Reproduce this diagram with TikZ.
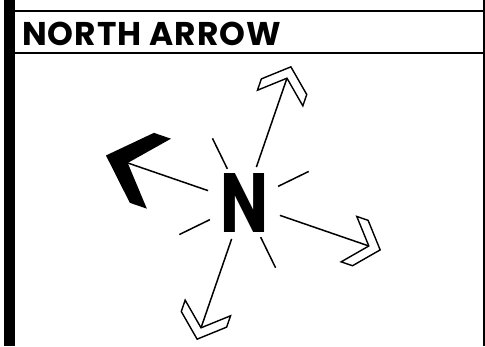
\documentclass[tikz,border=0pt]{standalone}
\usepackage{fontspec}
\usepackage{graphicx}
\usetikzlibrary{calc}
\newfontfamily\pop{Poppins}
\tikzset{
  ray/.style={line width=1.5bp},
  chev/.style={line width=1.4bp, line join=miter},
  frameline/.style={line width=1.8bp},
}
\begin{document}
\begin{tikzpicture}[x=1bp,y=1bp]
\useasboundingbox (0,0) rectangle (485,346);
% frame
\fill (4,0) rectangle (15,346);
\draw[frameline] (15,335) -- (485,335);
\draw[frameline] (15,293) -- (485,293);
\draw[line width=1.2bp] (484,0) -- (484,346);
% title
\node[anchor=base west, inner sep=0pt, font=\pop\bfseries\fontsize{33}{33}\selectfont] (title) at (22,301) {\addfontfeature{LetterSpace=3}NORTH ARROW};
% centre letter
\coordinate (C) at (244,143);
\node[inner sep=0pt] (N) at (C) {\resizebox{48bp}{59bp}{\pop\bfseries N}};
% ticks
\foreach \a in {26,116,206,296}{
  \draw[ray] ($(C)+(\a:38)$) -- ($(C)+(\a:72)$);
}
% open arrows
\foreach \a in {71,341,251}{
  \begin{scope}[shift={(C)}, rotate=\a]
    \draw[ray] (38,0) -- (132,0);
    \draw[chev, shift={(132,0)}] (12,0) -- (-9,24) -- (-21,24) -- (0,0) -- (-21,-24) -- (-9,-24) -- cycle;
  \end{scope}
}
% filled arrow
\begin{scope}[shift={(C)}, rotate=161]
  \draw[ray] (38,0) -- (123,0);
  \fill[shift={(123,0)}] (23,0) -- (-15,37) -- (-33,37) -- (0,0) -- (-33,-37) -- (-15,-37) -- cycle;
\end{scope}
\end{tikzpicture}
\end{document}
